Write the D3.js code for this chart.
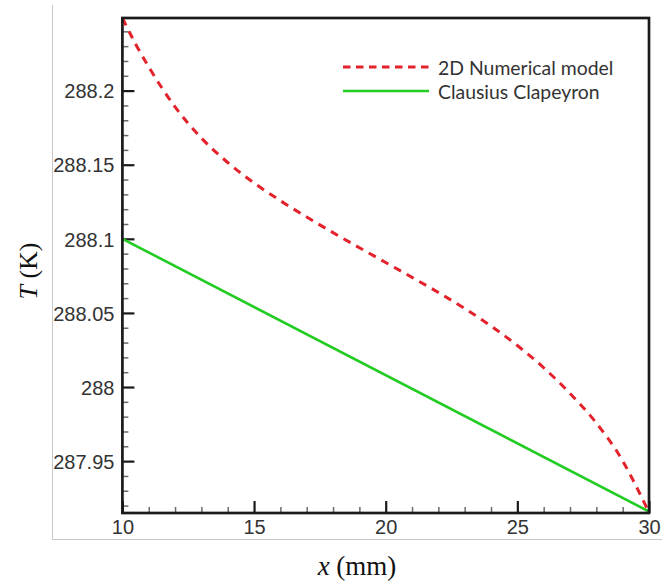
<!DOCTYPE html>
<html>
<head>
<meta charset="utf-8">
<script src="https://cdn.jsdelivr.net/npm/d3@7"></script>
<style>
  html, body { margin: 0; padding: 0; background: #fff; }
  svg { display: block; }
</style>
</head>
<body>
<svg id="chart" width="662" height="583"></svg>
<script>
// Interface temperature along the channel: numerical model vs. Clausius-Clapeyron
const xNumerical = [10, 10.5, 11, 12, 13, 14, 15, 16, 17, 18, 19, 20, 21, 22, 23, 24, 25, 26, 27, 28, 29, 29.5, 30];
const tNumerical = [288.249, 288.2315, 288.216, 288.189, 288.168, 288.1515, 288.1377, 288.1257, 288.1147, 288.1042, 288.094, 288.084, 288.074, 288.0638, 288.053, 288.0412, 288.028, 288.013, 287.9957, 287.9757, 287.9502, 287.9335, 287.9152];

const xClausius = [10, 30];
const tClausius = [288.1, 287.916];

const xTicks = [10, 15, 20, 25, 30];
const yTicks = [287.95, 288, 288.05, 288.1, 288.15, 288.2];
const seriesNames = ["2D Numerical model", "Clausius Clapeyron"];

const svg = d3.select("#chart");
const plotLeft = 122.4, plotRight = 649, plotTop = 18, plotBottom = 513;

const x = d3.scaleLinear().domain([10, 30]).range([plotLeft, plotRight]);
const y = d3.scaleLinear().domain([287.915, 288.249]).range([plotBottom, plotTop]);

// outer light frame (left and bottom edges)
svg.append("path")
  .attr("d", "M52.5,5 V539.5 H662")
  .attr("fill", "none").attr("stroke", "#c8c8c8").attr("stroke-width", 1);

// minor ticks (inward)
const yMinor = d3.range(287.92, 288.2401, 0.01).filter(v => !yTicks.some(t => Math.abs(t - v) < 1e-6));
const xMinor = d3.range(11, 30, 1).filter(v => !xTicks.includes(v));

svg.append("g").attr("transform", `translate(${plotLeft},0)`)
  .call(d3.axisRight(y).tickValues(yMinor).tickSize(6).tickFormat(""))
  .call(g => g.select(".domain").remove())
  .call(g => g.selectAll("line").attr("stroke", "#6a6a6a").attr("stroke-width", 1.5));

svg.append("g").attr("transform", `translate(0,${plotBottom})`)
  .call(d3.axisTop(x).tickValues(xMinor).tickSize(6).tickFormat(""))
  .call(g => g.select(".domain").remove())
  .call(g => g.selectAll("line").attr("stroke", "#6a6a6a").attr("stroke-width", 1.5));

// major ticks with labels
const yAxis = svg.append("g").attr("transform", `translate(${plotLeft},0)`)
  .call(d3.axisRight(y).tickValues(yTicks).tickSize(12).tickFormat(d3.format("~f")))
  .call(g => g.select(".domain").remove());
yAxis.selectAll("line").attr("stroke", "#1a1a1a").attr("stroke-width", 2.2);
yAxis.selectAll("text")
  .attr("x", -8).attr("dy", "0.36em")
  .attr("text-anchor", "end")
  .attr("fill", "#333")
  .style("font-family", "'Liberation Sans', Arial, sans-serif")
  .style("font-size", "20px");

const xAxis = svg.append("g").attr("transform", `translate(0,${plotBottom})`)
  .call(d3.axisTop(x).tickValues(xTicks).tickSize(12).tickFormat(d3.format("d")))
  .call(g => g.select(".domain").remove());
xAxis.selectAll("line").attr("stroke", "#1a1a1a").attr("stroke-width", 2.2);
xAxis.selectAll("text")
  .attr("y", 21).attr("dy", 0)
  .attr("text-anchor", "middle")
  .attr("fill", "#333")
  .style("font-family", "'Liberation Sans', Arial, sans-serif")
  .style("font-size", "20px");

// data lines
const lineGen = d3.line().x(d => x(d[0])).y(d => y(d[1])).curve(d3.curveMonotoneX);

svg.append("path")
  .datum(d3.zip(xClausius, tClausius))
  .attr("d", lineGen)
  .attr("fill", "none").attr("stroke", "#22cc22").attr("stroke-width", 2.6);

svg.append("path")
  .datum(d3.zip(xNumerical, tNumerical))
  .attr("d", lineGen)
  .attr("fill", "none").attr("stroke", "#e3222b").attr("stroke-width", 3)
  .attr("stroke-dasharray", "8,6.5");

// plot frame
svg.append("rect")
  .attr("x", plotLeft).attr("y", plotTop)
  .attr("width", plotRight - plotLeft).attr("height", plotBottom - plotTop)
  .attr("fill", "none").attr("stroke", "#1a1a1a").attr("stroke-width", 2.7);

// legend
const legend = svg.append("g");
const legendRows = [
  { name: seriesNames[0], color: "#e3222b", dash: "7.5,5.5", width: 3, yPos: 67 },
  { name: seriesNames[1], color: "#22cc22", dash: null, width: 2.6, yPos: 91 }
];
legendRows.forEach(r => {
  legend.append("line")
    .attr("x1", 343).attr("x2", 429).attr("y1", r.yPos).attr("y2", r.yPos)
    .attr("stroke", r.color).attr("stroke-width", r.width)
    .attr("stroke-dasharray", r.dash);
  legend.append("text")
    .attr("x", 438).attr("y", r.yPos + 7.5)
    .attr("fill", "#333")
    .style("font-family", "Lato, 'Open Sans', sans-serif")
    .style("font-size", "19.4px")
    .text(r.name);
});

// axis titles
const xTitle = svg.append("text")
  .attr("x", 357).attr("y", 575)
  .attr("text-anchor", "middle")
  .attr("fill", "#111")
  .style("font-family", "'Liberation Serif', 'Times New Roman', serif")
  .style("font-size", "27px");
xTitle.append("tspan").style("font-style", "italic").text("x");
xTitle.append("tspan").text(" (mm)");

const yTitle = svg.append("text")
  .attr("transform", "translate(37,271) rotate(-90)")
  .attr("text-anchor", "middle")
  .attr("fill", "#111")
  .style("font-family", "'Liberation Serif', 'Times New Roman', serif")
  .style("font-size", "26px");
yTitle.append("tspan").style("font-style", "italic").text("T");
yTitle.append("tspan").text(" (K)");
</script>
</body>
</html>
